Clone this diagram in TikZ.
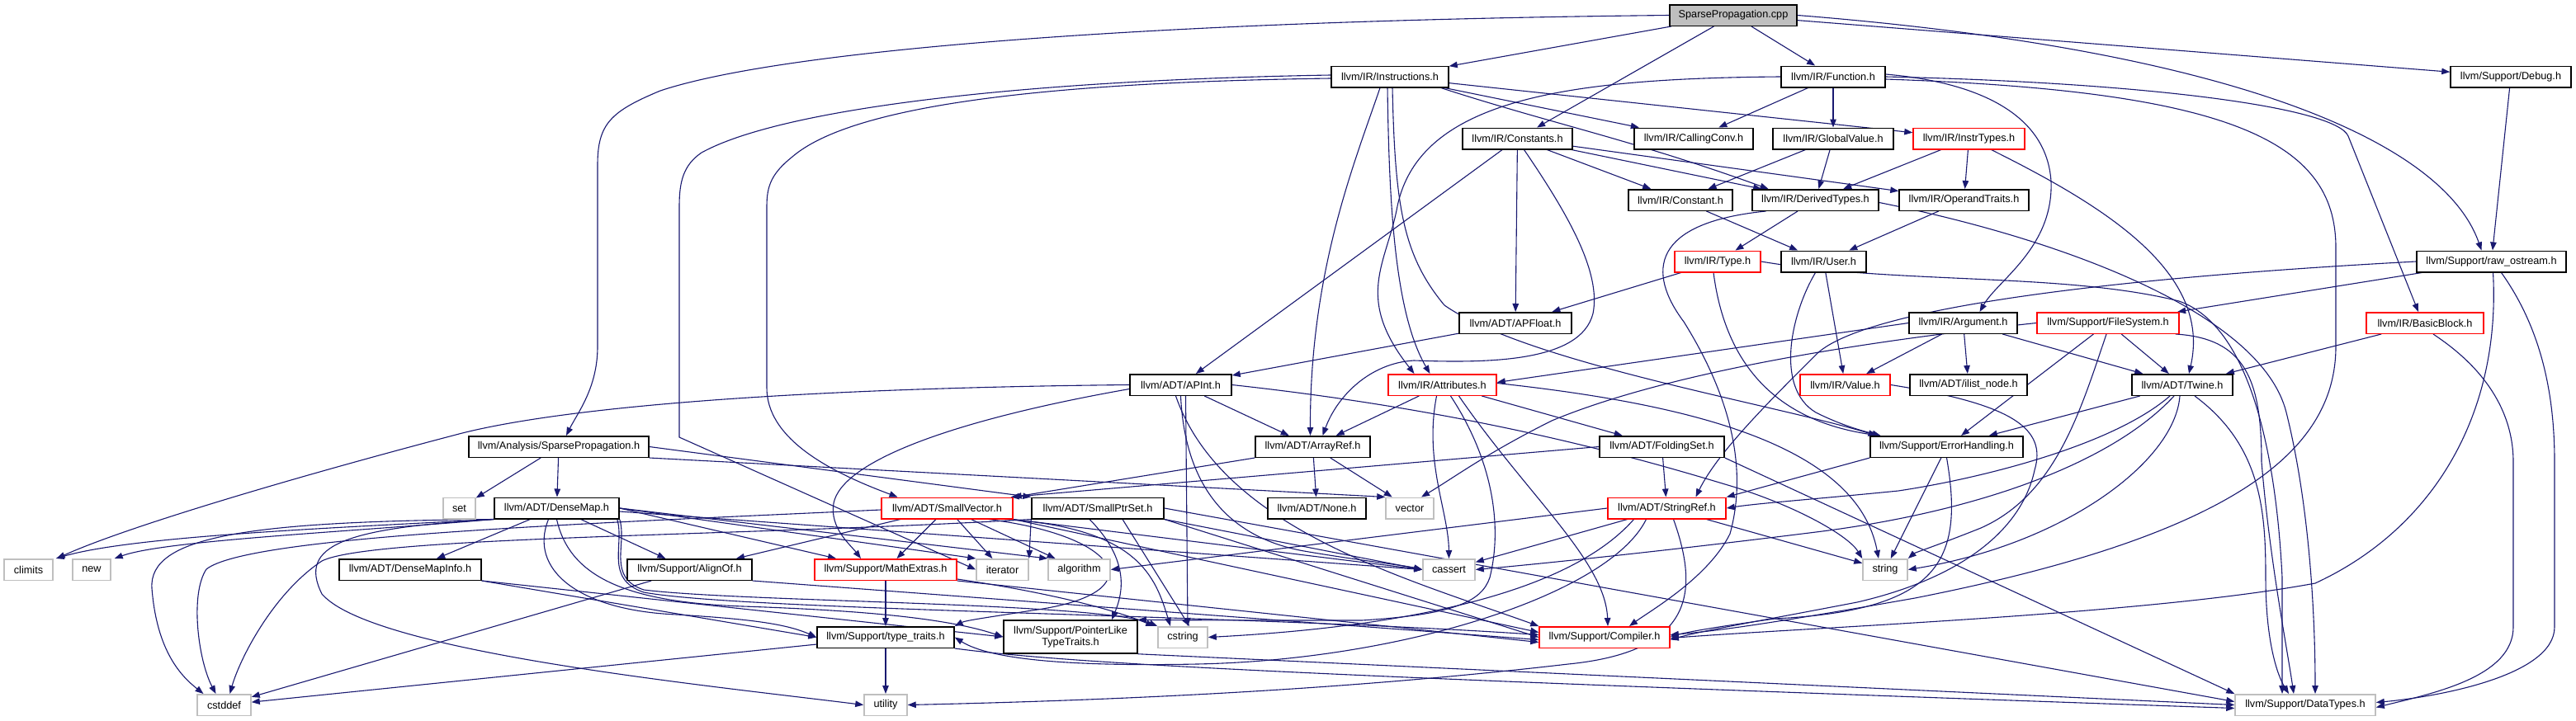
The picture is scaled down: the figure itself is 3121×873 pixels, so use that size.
\documentclass[tikz,border=0pt]{standalone}
\usepackage{fontspec}
\setmainfont{Liberation Sans}
\usetikzlibrary{arrows.meta}
\pgfdeclarelayer{bg}
\pgfsetlayers{bg,main}
\definecolor{edgec}{HTML}{191970}
\definecolor{sysgray}{HTML}{BFBFBF}
\definecolor{truncred}{HTML}{FF0000}
\tikzset{
  box/.style={draw=black, line width=1.5pt, fill=white, inner sep=0pt, minimum height=25.5pt,
    font=\fontsize{12.7}{14.5}\selectfont, align=center},
  tbox/.style={box, draw=truncred},
  sbox/.style={box, draw=sysgray},
  e/.style={draw=edgec, line width=1.1pt, -{Triangle[length=10pt,width=7.5pt]}},
}
\newcommand\mknode[6]{\node[#5, minimum width=#4pt] (#1) at (#2,#3) {#6};}
\begin{document}
\begin{tikzpicture}[x=1pt,y=-1pt]
\useasboundingbox (0,0) rectangle (3121,873);
% ---------------- nodes
\mknode{cpp}{2100}{18.5}{154}{box,fill=sysgray}{SparsePropagation.cpp}
\mknode{instr}{1684}{93}{142}{box}{llvm/IR/Instructions.h}
\mknode{func}{2221}{93}{126}{box}{llvm/IR/Function.h}
\mknode{debug}{3042}{93}{146}{box}{llvm/Support/Debug.h}
\mknode{consts}{1838.5}{168}{133}{box}{llvm/IR/Constants.h}
\mknode{callconv}{2052}{168}{144}{box}{llvm/IR/CallingConv.h}
\mknode{globval}{2221}{168}{146}{box}{llvm/IR/GlobalValue.h}
\mknode{instrtypes}{2385.5}{168}{135}{tbox}{llvm/IR/InstrTypes.h}
\mknode{constant}{2036}{242.5}{126}{box}{llvm/IR/Constant.h}
\mknode{derived}{2199.5}{242.5}{153}{box}{llvm/IR/DerivedTypes.h}
\mknode{operand}{2379.5}{242.5}{157}{box}{llvm/IR/OperandTraits.h}
\mknode{ntype}{2081}{317}{104}{tbox}{llvm/IR/Type.h}
\mknode{user}{2209.5}{317}{103}{box}{llvm/IR/User.h}
\mknode{rawos}{3018.5}{317}{181}{box}{llvm/Support/raw\_ostream.h}
\mknode{apfloat}{1836}{391.5}{136}{box}{llvm/ADT/APFloat.h}
\mknode{argument}{2378.5}{391.5}{131}{box}{llvm/IR/Argument.h}
\mknode{filesys}{2554}{391.5}{172}{tbox}{llvm/Support/FileSystem.h}
\mknode{basicblock}{2938}{391.5}{142}{tbox}{llvm/IR/BasicBlock.h}
\mknode{apint}{1430.5}{466.5}{123}{box}{llvm/ADT/APInt.h}
\mknode{attrs}{1747.5}{466.5}{131}{tbox}{llvm/IR/Attributes.h}
\mknode{nvalue}{2235.5}{466.5}{109}{tbox}{llvm/IR/Value.h}
\mknode{ilist}{2385}{466.5}{142}{box}{llvm/ADT/ilist\_node.h}
\mknode{twine}{2644}{466.5}{122}{box}{llvm/ADT/Twine.h}
\mknode{sparseh}{677}{541.5}{218}{box}{llvm/Analysis/SparsePropagation.h}
\mknode{arrayref}{1590.5}{541.5}{139}{box}{llvm/ADT/ArrayRef.h}
\mknode{folding}{2013.5}{541.5}{151}{box}{llvm/ADT/FoldingSet.h}
\mknode{errh}{2358.5}{541.5}{185}{box}{llvm/Support/ErrorHandling.h}
\mknode{nset}{556.5}{616}{39}{sbox}{set}
\mknode{densemap}{674.5}{616}{151}{box}{llvm/ADT/DenseMap.h}
\mknode{smallvec}{1147.5}{616}{159}{tbox}{llvm/ADT/SmallVector.h}
\mknode{smallptr}{1330}{616}{160}{box}{llvm/ADT/SmallPtrSet.h}
\mknode{nnone}{1595.5}{616}{119}{box}{llvm/ADT/None.h}
\mknode{nvector}{1708}{616}{58}{sbox}{vector}
\mknode{stringref}{2019.5}{616}{143}{tbox}{llvm/ADT/StringRef.h}
\mknode{climits}{34.5}{690.5}{59}{sbox}{climits}
\mknode{nnew}{111}{690.5}{46}{sbox}{new}
\mknode{densemapinfo}{497}{690.5}{172}{box}{llvm/ADT/DenseMapInfo.h}
\mknode{alignof}{835.5}{690.5}{151}{box}{llvm/Support/AlignOf.h}
\mknode{mathext}{1073}{690.5}{172}{tbox}{llvm/Support/MathExtras.h}
\mknode{iterator}{1214.5}{690.5}{63}{sbox}{iterator}
\mknode{algorithm}{1307.5}{690.5}{75}{sbox}{algorithm}
\mknode{cassert}{1755.5}{690.5}{63}{sbox}{cassert}
\mknode{nstring}{2284}{690.5}{54}{sbox}{string}
\mknode{typetraits}{1073}{772.5}{166}{box}{llvm/Support/type\_traits.h}
\node[box, minimum width=162pt, minimum height=40pt] (pointerlike) at (1297,772) {llvm/Support/PointerLike\\TypeTraits.h};
\mknode{cstring}{1433}{772.5}{60}{sbox}{cstring}
\mknode{compiler}{1944}{772.5}{158}{tbox}{llvm/Support/Compiler.h}
\mknode{cstddef}{271.5}{854.5}{65}{sbox}{cstddef}
\mknode{utility}{1073}{854.5}{52}{sbox}{utility}
\mknode{datatypes}{2793}{854.5}{170}{sbox}{llvm/Support/DataTypes.h}
% ---------------- edges
\begin{pgfonlayer}{bg}
% cpp
\draw[e] (cpp.west) .. controls (1400,25) and (950,60) .. (800,110) .. controls (740,135) and (724,150) .. (724,200) -- (724,420) .. controls (724,470) and (700,500) .. ([xshift=9pt]sparseh.north);
\draw[e] (cpp) -- (instr);
\draw[e] (cpp) -- (consts);
\draw[e] (cpp) -- (func);
\draw[e] (cpp) -- (debug);
\draw[e] (cpp.east) .. controls (2700,60) and (2960,170) .. ([xshift=-12pt]rawos.north);
% instructions
\draw[e] ([yshift=2pt]instr.west) .. controls (1250,97) and (950,130) .. (850,185) .. controls (828,200) and (823,220) .. (823,250) -- (823,530) -- (iterator.west);
\draw[e] ([yshift=-2pt]instr.west) .. controls (1250,100) and (1030,130) .. (960,190) .. controls (935,210) and (929,225) .. (929,250) -- (929,470) .. controls (929,530) and (1000,570) .. ([xshift=-60pt]smallvec.north);
\draw[e] (instr) -- (callconv);
\draw[e] (instr) -- (instrtypes);
\draw[e] ([xshift=-10pt]instr.south east) .. controls (1880,150) and (1980,170) .. ([xshift=-57pt]derived.north);
\draw[e] ([xshift=-12pt]instr.south) .. controls (1640,200) and (1587,330) .. ([xshift=-3pt]arrayref.north);
\draw[e] ([xshift=-3pt]instr.south) .. controls (1683,250) and (1690,380) .. ([xshift=-15pt]attrs.north);
\draw[e] ([xshift=3pt]instr.south) .. controls (1690,250) and (1700,310) .. (1750,370) .. controls (1850,440) and (2150,490) .. ([xshift=-85pt]errh.north);
% constants
\draw[e] (consts) -- (apfloat);
\draw[e] (consts) -- (apint);
\draw[e] (consts) -- (constant);
\draw[e] (consts) -- (derived);
\draw[e] (consts) -- (operand);
\draw[e] ([xshift=8pt]consts.south) .. controls (1900,260) and (1940,330) .. (1930,380) .. controls (1915,440) and (1800,440) .. (1713,437) .. controls (1660,440) and (1620,480) .. ([xshift=12pt]arrayref.north);
% function
\draw[e] (func.west) .. controls (1900,95) and (1720,120) .. (1693,250) .. controls (1680,320) and (1640,360) .. ([xshift=-34pt]attrs.north);
\draw[e] (func) -- (callconv);
\draw[e] (func) -- (globval);
\draw[e] ([yshift=3pt]func.east) .. controls (2400,100) and (2480,140) .. (2485,220) .. controls (2488,300) and (2420,340) .. ([xshift=20pt]argument.north);
\draw[e] (func.east) .. controls (2600,100) and (2830,130) .. (2845,165) -- ([xshift=-8pt]basicblock.north);
\draw[e] ([yshift=-3pt]func.east) .. controls (2700,110) and (2830,170) .. (2830,300) -- (2830,420) .. controls (2830,550) and (2700,650) .. (2320,725) .. controls (2150,755) and (2080,765) .. ([yshift=3pt]compiler.east);
% debug, raw_ostream
\draw[e] (debug) -- (rawos);
\draw[e] (rawos.west) .. controls (2500,340) and (2250,380) .. (2200,430) .. controls (2140,490) and (2080,550) .. ([xshift=35pt]stringref.north);
\draw[e] (rawos) -- (filesys);
\draw[e] ([xshift=2pt]rawos.south) .. controls (3030,500) and (2950,640) .. (2805,707) .. controls (2600,745) and (2200,760) .. ([yshift=-1pt]compiler.east);
\draw[e] ([xshift=12pt]rawos.south) .. controls (3080,400) and (3095,480) .. (3095,560) -- (3095,760) .. controls (3095,820) and (2950,845) .. ([yshift=3pt]datatypes.east);
% globalvalue, instrtypes
\draw[e] (globval) -- (constant);
\draw[e] (globval) -- (derived);
\draw[e] (instrtypes) -- (derived);
\draw[e] (instrtypes) -- (operand);
\draw[e] ([xshift=27pt]instrtypes.south) .. controls (2550,250) and (2680,330) .. ([xshift=8pt]twine.north);
% constant, operand, derived, type, user
\draw[e] (constant) -- (user);
\draw[e] (operand) -- (user);
\draw[e] (derived) -- (ntype);
\draw[e] ([xshift=-60pt]derived.south) .. controls (2000,270) and (1995,330) .. (2040,390) .. controls (2090,470) and (2120,560) .. (2096,647) .. controls (2070,700) and (2000,740) .. ([xshift=30pt]compiler.north);
\draw[e] ([yshift=-3pt]derived.east) .. controls (2500,290) and (2740,380) .. (2770,500) .. controls (2800,620) and (2805,760) .. ([xshift=12pt]datatypes.north);
\draw[e] (ntype) -- (apfloat);
\draw[e] ([xshift=-5pt]ntype.south) .. controls (2090,440) and (2150,510) .. ([xshift=-82pt]errh.north);
\draw[e] (ntype.east) .. controls (2300,345) and (2500,330) .. (2640,365) .. controls (2740,400) and (2760,600) .. (2765,700) -- ([xshift=-28pt]datatypes.north);
\draw[e] (user) -- (nvalue);
\draw[e] ([xshift=-10pt]user.south) .. controls (2170,380) and (2150,470) .. (2200,500) .. controls (2230,515) and (2255,522) .. ([xshift=-80pt]errh.north);
% apfloat, argument
\draw[e] (apfloat) -- (apint);
\draw[e] (argument.west) -- ([yshift=3pt]attrs.east);
\draw[e] (argument) -- (nvalue);
\draw[e] (argument) -- (ilist);
\draw[e] (argument) -- (twine);
% filesystem
\draw[e] (filesys) -- (twine);
\draw[e] (filesys) -- (errh);
\draw[e] ([xshift=-2pt]filesys.south) .. controls (2520,500) and (2490,600) .. (2400,640) .. controls (2350,660) and (2320,670) .. (nstring.north east);
\draw[e] (filesys.west) .. controls (2200,420) and (2000,460) .. (1880,510) .. controls (1800,550) and (1760,580) .. ([xshift=14pt]nvector.north);
\draw[e] ([xshift=-5pt]filesys.south east) .. controls (2720,410) and (2740,460) .. (2740,560) .. controls (2750,680) and (2770,780) .. ([xshift=-14pt]datatypes.north);
% basicblock
\draw[e] (basicblock) -- (twine);
\draw[e] ([xshift=10pt]basicblock.south) .. controls (2970,420) and (3045,470) .. (3045,560) -- (3045,760) .. controls (3045,820) and (2950,840) .. ([yshift=-3pt]datatypes.east);
% apint
\draw[e] (apint.west) .. controls (1000,470) and (700,490) .. (560,525) .. controls (350,580) and (150,640) .. ([xshift=4pt]climits.north east);
\draw[e] ([yshift=-5pt]apint.west) .. controls (1150,510) and (1020,560) .. (1010,610) .. controls (1005,640) and (1030,660) .. ([xshift=-30pt]mathext.north);
\draw[e] (apint) -- (arrayref);
\draw[e] (apint.south) .. controls (1435,580) and (1480,650) .. (1580,668) .. controls (1650,680) and (1700,685) .. (cassert.west);
\draw[e] ([xshift=6pt]apint.south) -- ([xshift=6pt]cstring.north);
\draw[e] (apint.east) .. controls (1800,500) and (2000,560) .. (2100,590) .. controls (2180,615) and (2240,650) .. (nstring.north west);
\draw[e] ([xshift=-6pt]apint.south) .. controls (1480,640) and (1700,700) .. (compiler.north west);
% attributes
\draw[e] (attrs) -- (arrayref);
\draw[e] (attrs) -- (folding);
\draw[e] ([xshift=-7pt]attrs.south) .. controls (1725,560) and (1755,620) .. (cassert.north);
\draw[e] ([xshift=20pt]attrs.south) .. controls (1850,600) and (1945,680) .. ([xshift=4pt]compiler.north);
\draw[e] ([xshift=10pt]attrs.south) .. controls (1810,560) and (1820,640) .. (1805,700) .. controls (1795,730) and (1760,745) .. (1650,752) .. controls (1550,752) and (1450,752) .. (pointerlike.north east);
\draw[e] ([yshift=2pt]attrs.east) .. controls (2050,490) and (2250,540) .. ([xshift=-8pt]nstring.north);
% value
\draw[e] (nvalue.east) .. controls (2440,490) and (2480,520) .. (2465,570) .. controls (2450,640) and (2380,700) .. (2250,730) .. controls (2120,755) and (2060,765) .. ([yshift=-3pt]compiler.east);
% twine
\draw[e] (twine) -- (errh);
\draw[e] ([xshift=-15pt]twine.south) .. controls (2560,540) and (2400,580) .. (2300,595) .. controls (2200,605) and (2130,610) .. (stringref.east);
\draw[e] ([xshift=-10pt]twine.south) .. controls (2560,560) and (2400,620) .. (2200,645) .. controls (2000,670) and (1850,685) .. (cassert.east);
\draw[e] ([xshift=-3pt]twine.south) .. controls (2635,560) and (2500,660) .. (nstring.east);
\draw[e] ([xshift=15pt]twine.south) .. controls (2740,540) and (2745,620) .. (2745,700) .. controls (2745,780) and (2760,820) .. ([xshift=-20pt]datatypes.north);
% sparse propagation header
\draw[e] (sparseh) -- (nset);
\draw[e] (sparseh) -- (densemap);
\draw[e] (sparseh.east) -- (smallptr.north west);
\draw[e] (sparseh.south east) -- (nvector.north west);
% arrayref, folding, errorhandling
\draw[e] (arrayref) -- (nnone);
\draw[e] (arrayref.south west) -- (smallvec.north east);
\draw[e] (arrayref) -- (nvector);
\draw[e] (folding.west) -- ([xshift=-3pt]smallvec.north east);
\draw[e] (folding) -- (stringref);
\draw[e] (folding.south east) -- (datatypes.north west);
\draw[e] (errh.south west) -- (stringref.north east);
\draw[e] (errh) -- (nstring);
\draw[e] (errh.south) .. controls (2380,680) and (2350,740) .. (2150,750) .. controls (2080,760) and (2050,765) .. ([yshift=1pt]compiler.east);
% densemap
\draw[e] (densemap) -- (densemapinfo);
\draw[e] (densemap) -- (alignof);
\draw[e] (densemap.south west) .. controls (400,640) and (160,650) .. ([xshift=3pt]climits.north east);
\draw[e] (densemap.south west) .. controls (420,645) and (200,655) .. ([xshift=4pt]nnew.north east);
\draw[e] (densemap.south west) .. controls (300,632) and (180,650) .. (184,713) .. controls (190,790) and (220,820) .. ([xshift=-25pt]cstddef.north);
\draw[e] (densemap.south west) .. controls (420,640) and (360,660) .. (390,720) .. controls (450,790) and (850,830) .. (utility.west);
\draw[e] ([xshift=-10pt]densemap.south) .. controls (640,690) and (700,740) .. (820,745) .. controls (900,750) and (950,755) .. (typetraits.west);
\draw[e] (densemap.south) .. controls (690,700) and (760,730) .. (900,735) .. controls (1050,740) and (1150,750) .. (pointerlike.west);
\draw[e] (densemap.east) -- ([xshift=-60pt]mathext.north);
\draw[e] (densemap.east) -- (algorithm.north west);
\draw[e] (densemap.east) -- (iterator.north west);
\draw[e] ([yshift=-4pt]densemap.east) -- (cassert.west);
\draw[e] (densemap.south east) .. controls (760,660) and (735,700) .. (780,715) .. controls (900,730) and (1330,730) .. (cstring.north west);
\draw[e] ([xshift=-3pt]densemap.south east) .. controls (757,660) and (732,702) .. (780,718) .. controls (900,740) and (1500,745) .. ([yshift=3pt]compiler.west);
% smallvector
\draw[e] (smallvec) -- (alignof);
\draw[e] (smallvec) -- (mathext);
\draw[e] (smallvec) -- (iterator);
\draw[e] (smallvec) -- (algorithm);
\draw[e] (smallvec.south east) -- (cassert.west);
\draw[e] (smallvec.south east) -- ([yshift=6pt]compiler.west);
\draw[e] ([xshift=50pt]smallvec.south) .. controls (1360,650) and (1400,720) .. (1250,740) .. controls (1200,748) and (1170,752) .. (typetraits.north east);
\draw[e] ([yshift=-2pt]smallvec.west) .. controls (700,635) and (300,650) .. (250,690) .. controls (230,720) and (240,800) .. ([xshift=-10pt]cstddef.north);
\draw[e] ([xshift=70pt]smallvec.south) .. controls (1380,640) and (1400,700) .. ([xshift=-15pt]cstring.north);
% smallptrset
\draw[e] (smallptr.south east) -- (compiler.west);
\draw[e] (smallptr.east) -- ([yshift=4pt]datatypes.west);
\draw[e] ([xshift=-10pt]smallptr.south) .. controls (1370,680) and (1360,720) .. ([xshift=50pt]pointerlike.north);
\draw[e] (smallptr.south east) -- (cassert.west);
\draw[e] (smallptr.south west) .. controls (900,650) and (450,650) .. (390,680) .. controls (330,720) and (290,800) .. ([xshift=7pt]cstddef.north);
\draw[e] ([xshift=30pt]smallptr.south) -- ([xshift=8pt]cstring.north);
\draw[e] (smallptr.south west) -- (iterator.north east);
% stringref
\draw[e] ([xshift=-25pt]stringref.south) .. controls (1950,720) and (1700,800) .. (1450,805) .. controls (1300,808) and (1200,800) .. (typetraits.east);
\draw[e] (stringref.west) -- (algorithm.east);
\draw[e] (stringref) -- (cassert);
\draw[e] ([xshift=-40pt]stringref.south) .. controls (1900,720) and (1700,760) .. (cstring.east);
\draw[e] (stringref) -- (nstring);
\draw[e] ([xshift=8pt]stringref.south) .. controls (2060,720) and (2050,790) .. (1900,805) .. controls (1600,840) and (1300,850) .. (utility.east);
% densemapinfo, alignof, mathextras
\draw[e] (densemapinfo.south east) -- (pointerlike.west);
\draw[e] (densemapinfo.south east) -- (typetraits.west);
\draw[e] (alignof.south east) -- ([yshift=-3pt]compiler.west);
\draw[e] (alignof) -- (cstddef);
\draw[e] (mathext) -- (typetraits);
\draw[e] (mathext.south east) -- ([yshift=-6pt]compiler.west);
\draw[e] ([yshift=2pt]mathext.south east) .. controls (1250,715) and (1340,735) .. ([xshift=-4pt]cstring.north west);
% type_traits, pointerlike
\draw[e] (typetraits.south east) .. controls (1300,805) and (1600,820) .. ([yshift=-4pt]datatypes.west);
\draw[e] (typetraits) -- (cstddef);
\draw[e] (typetraits) -- (utility);
\draw[e] (pointerlike.south east) -- (datatypes.west);
\end{pgfonlayer}
\end{tikzpicture}
\end{document}
